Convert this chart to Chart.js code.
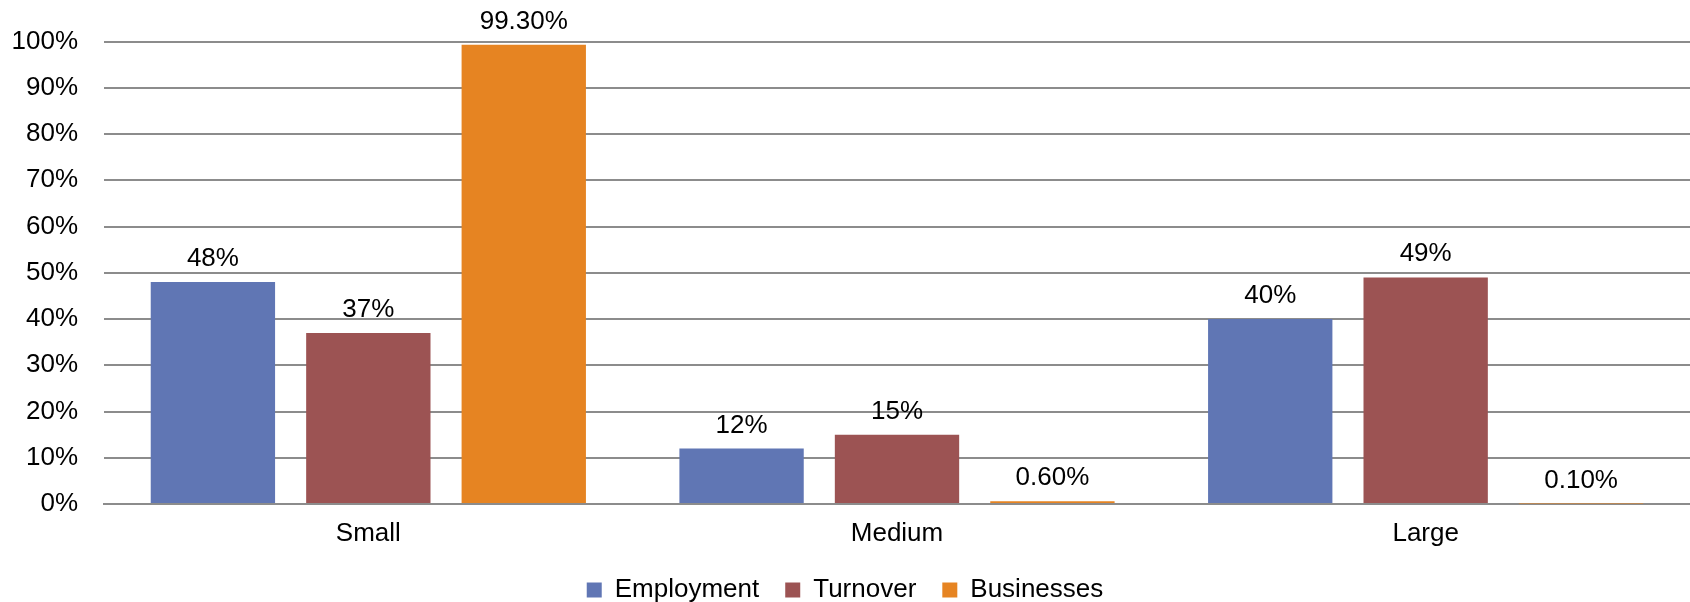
<!DOCTYPE html>
<html>
<head>
<meta charset="utf-8">
<script src="https://cdn.jsdelivr.net/npm/chart.js@4.4.1/dist/chart.umd.min.js"></script>
<style>
  html, body { margin: 0; padding: 0; background: #ffffff; }
  #wrap { width: 1690px; height: 602px; position: relative; }
</style>
</head>
<body>
<div id="wrap"><canvas id="c"></canvas></div>
<script>
const categories = ["Small", "Medium", "Large"];
const employment = [48, 12, 40];
const turnover = [37, 15, 49];
const businesses = [99.3, 0.6, 0.1];
const seriesNames = ["Employment", "Turnover", "Businesses"];
const labelDecimals = [0, 0, 2];
const yTicks = [0, 10, 20, 30, 40, 50, 60, 70, 80, 90, 100];

const FONT = "'Liberation Sans', Arial, sans-serif";
const FSIZE = 26;

const valueLabels = {
  id: 'valueLabels',
  afterDatasetsDraw(chart) {
    const ctx = chart.ctx;
    ctx.save();
    ctx.font = FSIZE + "px " + FONT;
    ctx.fillStyle = "#000000";
    ctx.textAlign = "center";
    ctx.textBaseline = "alphabetic";
    chart.data.datasets.forEach((ds, di) => {
      const meta = chart.getDatasetMeta(di);
      meta.data.forEach((bar, i) => {
        const v = ds.data[i];
        const txt = v.toFixed(labelDecimals[di]) + "%";
        ctx.fillText(txt, bar.x, bar.y - 16);
      });
    });
    ctx.restore();
  }
};

new Chart(document.getElementById('c'), {
  type: 'bar',
  data: {
    labels: categories,
    datasets: [
      { label: seriesNames[0], data: employment, backgroundColor: "#6076B4" },
      { label: seriesNames[1], data: turnover, backgroundColor: "#9C5353" },
      { label: seriesNames[2], data: businesses, backgroundColor: "#E68422" }
    ]
  },
  options: {
    responsive: true,
    maintainAspectRatio: false,
    devicePixelRatio: 1,
    animation: false,
    events: [],
    layout: { padding: { top: 41, right: 0, bottom: -11, left: 0 } },
    datasets: {
      bar: { categoryPercentage: 0.882, barPercentage: 0.8 }
    },
    scales: {
      x: {
        afterFit(scale) { scale.height = 47; },
        grid: { display: false, drawTicks: false },
        border: { display: true, color: "#8C8C8C", width: 2 },
        ticks: { color: "#000000", font: { family: FONT, size: FSIZE }, padding: 14 }
      },
      y: {
        min: 0, max: 100,
        afterBuildTicks(scale) { scale.ticks = yTicks.map(v => ({ value: v })); },
        afterFit(scale) { scale.width = 104; },
        grid: { color: "#8C8C8C", lineWidth: 2, drawTicks: false },
        border: { display: false },
        ticks: {
          color: "#000000",
          font: { family: FONT, size: FSIZE },
          padding: 26,
          callback: (v) => v + "%"
        }
      }
    },
    plugins: {
      tooltip: { enabled: false },
      legend: {
        position: 'bottom',
        labels: {
          color: "#000000",
          font: { family: FONT, size: FSIZE },
          boxWidth: 15,
          boxHeight: 15,
          padding: 26
        }
      }
    }
  },
  plugins: [valueLabels]
});
</script>
</body>
</html>
